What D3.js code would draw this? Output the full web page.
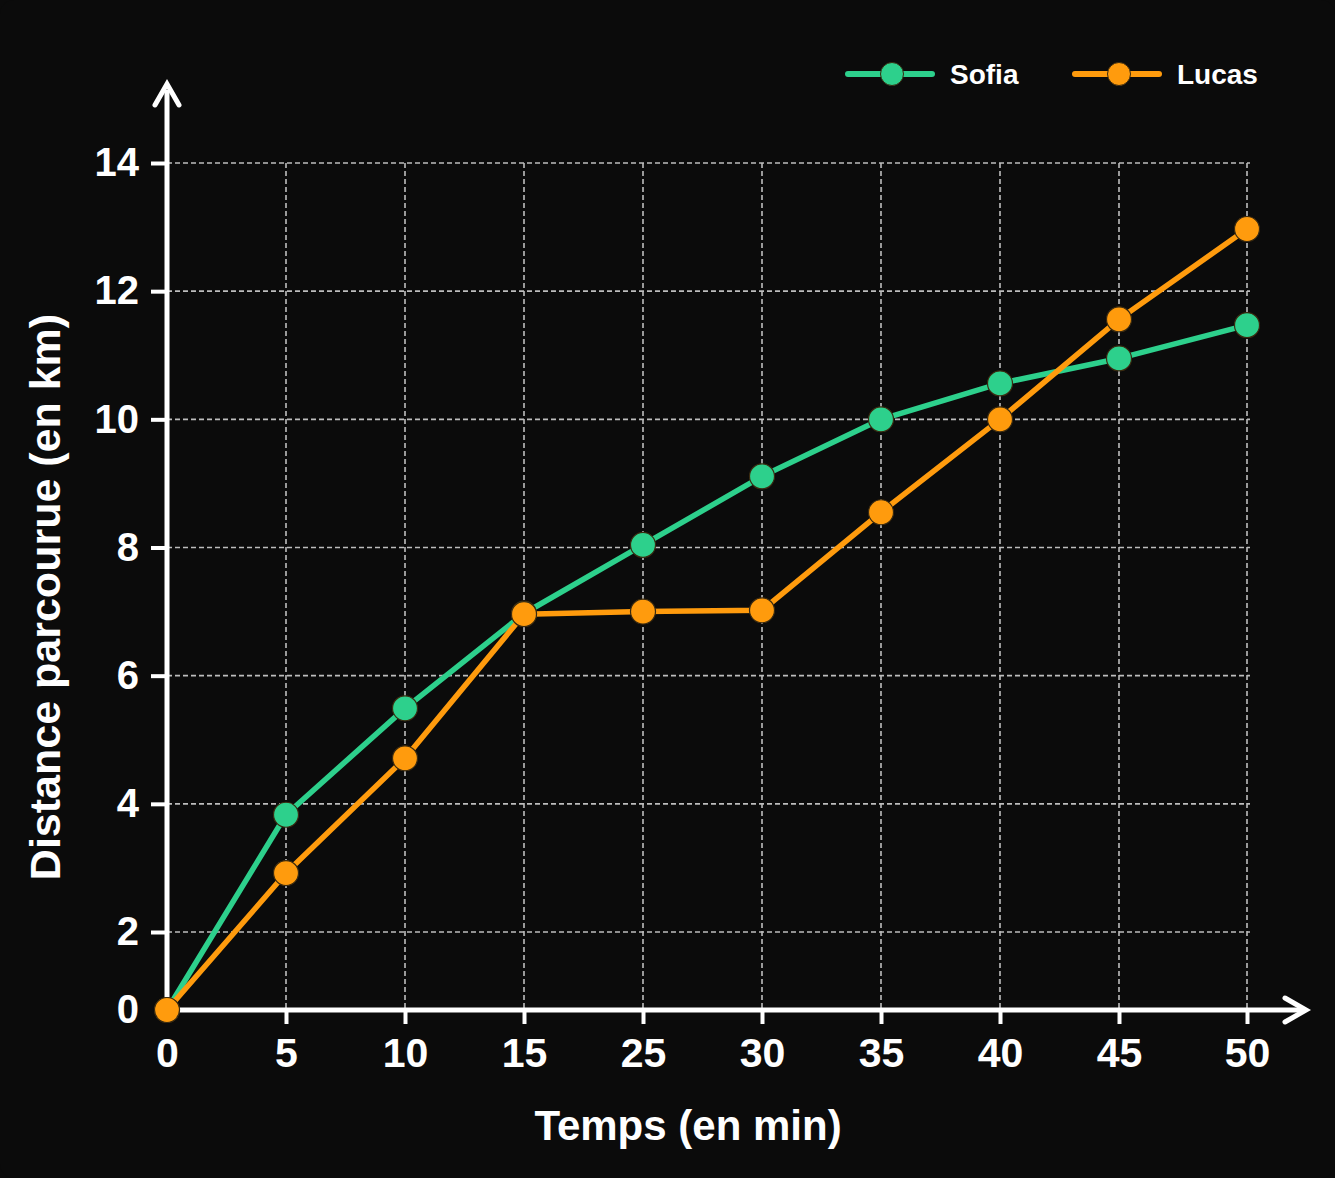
<!DOCTYPE html>
<html><head><meta charset="utf-8">
<script src="https://cdn.jsdelivr.net/npm/d3@7"></script>
<style>
html,body{margin:0;padding:0;background:#0b0b0b;}
svg{display:block;}
text{font-family:"Liberation Sans",Arial,Helvetica,sans-serif;font-weight:700;fill:#fff;}
</style></head><body>
<svg id="c" width="1335" height="1178"></svg>
<script>
const categories = ["0","5","10","15","25","30","35","40","45","50"];
const sofia = [0, 3.83, 5.49, 6.97, 8.04, 9.11, 10.0, 10.56, 10.95, 11.47];
const lucas = [0, 2.92, 4.71, 6.96, 7.0, 7.02, 8.55, 10.0, 11.56, 12.97];
const yTicks = [0, 2, 4, 6, 8, 10, 12, 14];
const seriesNames = ["Sofia", "Lucas"];
const colors = ["#2dd08c", "#ff9b0d"];
const FONT = "'Liberation Sans', Arial, Helvetica, sans-serif";

const svg = d3.select("#c");
svg.append("rect").attr("x",0).attr("y",0).attr("width",1335).attr("height",1178).attr("rx",14).attr("fill","#0b0b0b");

// category index scale (last interval slightly wider, as in the reference)
const xi = d3.scaleLinear().domain([0, 8, 9]).range([167, 1119, 1247]);
const x = c => xi(categories.indexOf(c));
const y = d3.scaleLinear().domain([0, 2, 14]).range([1010, 932, 163]);

// grid
const grid = svg.append("g");
yTicks.filter(t => t > 0).forEach(t => {
  grid.append("line").attr("x1", 167).attr("x2", 1250).attr("y1", y(t)).attr("y2", y(t))
    .attr("stroke", "#bdbdbd").attr("stroke-width", 1.6).attr("stroke-dasharray", "5,3");
});
categories.filter(c => c !== "0").forEach(c => {
  grid.append("line").attr("x1", x(c)).attr("x2", x(c)).attr("y1", 163).attr("y2", 1010)
    .attr("stroke", "#bdbdbd").attr("stroke-width", 1.6).attr("stroke-dasharray", "5,3");
});

// axes via d3
const xAxis = svg.append("g").attr("transform", "translate(0,1010)")
  .call(d3.axisBottom(xi).tickValues(d3.range(categories.length)).tickFormat(i => categories[i])
    .tickSize(14).tickPadding(14));
xAxis.select(".domain").remove();
xAxis.selectAll("line").attr("stroke", "#fff").attr("stroke-width", 4);
xAxis.selectAll(".tick").filter(d => d === 0).select("line").remove();
xAxis.selectAll("text").attr("font-size", 41).attr("fill", "#fff").attr("dy", "0.71em")
  .style("font-family", FONT).style("font-weight", 700);

const yAxis = svg.append("g").attr("transform", "translate(167,0)")
  .call(d3.axisLeft(y).tickValues(yTicks).tickSize(16).tickPadding(12).tickFormat(d3.format("d")));
yAxis.select(".domain").remove();
yAxis.selectAll("line").attr("stroke", "#fff").attr("stroke-width", 4);
yAxis.selectAll(".tick").filter(d => d === 0).select("line").remove();
yAxis.selectAll("text").attr("font-size", 40).attr("fill", "#fff")
  .style("font-family", FONT).style("font-weight", 700);

// axis lines with arrows
svg.append("line").attr("x1", 167).attr("x2", 167).attr("y1", 1012).attr("y2", 90)
  .attr("stroke", "#fff").attr("stroke-width", 5);
svg.append("path").attr("d", "M155,105 L167,84 L179,105").attr("fill", "none")
  .attr("stroke", "#fff").attr("stroke-width", 5).attr("stroke-linejoin", "miter").attr("stroke-linecap", "round");
svg.append("line").attr("x1", 165).attr("x2", 1302).attr("y1", 1010).attr("y2", 1010)
  .attr("stroke", "#fff").attr("stroke-width", 5);
svg.append("path").attr("d", "M1285,998 L1306,1010 L1285,1022").attr("fill", "none")
  .attr("stroke", "#fff").attr("stroke-width", 5).attr("stroke-linejoin", "miter").attr("stroke-linecap", "round");

// series
const data = [sofia, lucas];
const line = d3.line().x((d, i) => xi(i)).y(d => y(d));
data.forEach((s, k) => {
  svg.append("path").datum(s).attr("d", line).attr("fill", "none")
    .attr("stroke", colors[k]).attr("stroke-width", 5.5).attr("stroke-linejoin", "round");
});
data.forEach((s, k) => {
  svg.append("g").selectAll("circle").data(s).join("circle")
    .attr("cx", (d, i) => xi(i)).attr("cy", d => y(d)).attr("r", 12.5)
    .attr("fill", colors[k]).attr("stroke", "#3a2a10").attr("stroke-width", 1.2);
});

// legend
const legendX = [848, 1075];
seriesNames.forEach((n, k) => {
  const g = svg.append("g").attr("transform", `translate(${legendX[k]},74)`);
  g.append("line").attr("x1", 0).attr("x2", 84).attr("y1", 0).attr("y2", 0)
    .attr("stroke", colors[k]).attr("stroke-width", 6).attr("stroke-linecap", "round");
  g.append("circle").attr("cx", 44).attr("cy", 0).attr("r", 11.5).attr("fill", colors[k])
    .attr("stroke", "#3a2a10").attr("stroke-width", 1);
  g.append("text").attr("x", 102).attr("y", 0).attr("dy", "0.36em").attr("font-size", 28).text(n);
});

// axis titles
svg.append("text").attr("x", 688).attr("y", 1125).attr("dy", "0.36em").attr("text-anchor", "middle")
  .attr("font-size", 42).text("Temps (en min)");
svg.append("text").attr("transform", "translate(45,597) rotate(-90)").attr("dy", "0.36em")
  .attr("text-anchor", "middle").attr("font-size", 43).text("Distance parcourue (en km)");
</script>
</body></html>
